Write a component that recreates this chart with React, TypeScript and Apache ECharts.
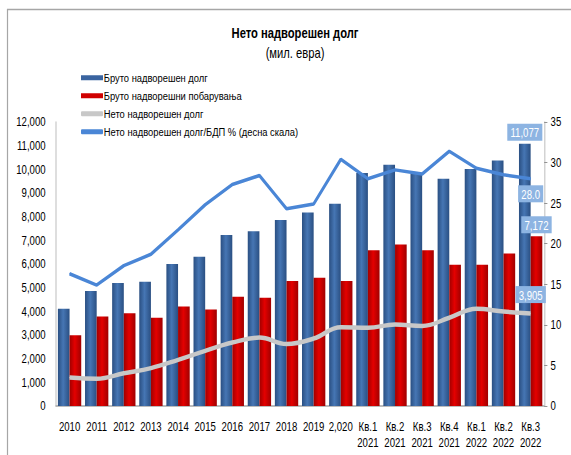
import React, { useEffect, useRef } from "react";
import * as echarts from "echarts";

const categories = [
  "2010", "2011", "2012", "2013", "2014", "2015", "2016", "2017", "2018", "2019", "2,020",
  "Кв.1\n2021", "Кв.2\n2021", "Кв.3\n2021", "Кв.4\n2021", "Кв.1\n2022", "Кв.2\n2022", "Кв.3\n2022",
];
const grossDebt = [4110, 4860, 5200, 5250, 6000, 6310, 7230, 7380, 7860, 8180, 8550, 9840, 10190, 9800, 9600, 10010, 10370, 11077];
const grossClaims = [2990, 3780, 3920, 3730, 4200, 4080, 4620, 4570, 5280, 5420, 5280, 6580, 6820, 6580, 5970, 5970, 6440, 7172];
const netDebt = [1200, 1150, 1380, 1600, 1950, 2330, 2680, 2890, 2620, 2850, 3330, 3310, 3440, 3380, 3730, 4110, 3990, 3905];
const netDebtGdp = [16.3, 14.9, 17.3, 18.7, 21.7, 24.8, 27.3, 28.4, 24.3, 24.9, 30.4, 28.0, 29.1, 28.6, 31.4, 29.3, 28.5, 28.0];

const seriesNames = [
  "Бруто надворешен долг",
  "Бруто надворешни побарувања",
  "Нето надворешен долг",
  "Нето надворешен долг/БДП % (десна скала)",
];

// The reference uses a condensed face; the chart is drawn wider and squeezed horizontally.
const SX = 0.8;
const W = 571;
const H = 455;
const ux = (x: number) => x / SX;

const FONT = "'Liberation Sans', Arial, sans-serif";
const LABEL_BG = "#8DB4E2";

const fmt = (v: number) => v.toLocaleString("en-US");

const hGrad = (edge: string, mid: string) =>
  new echarts.graphic.LinearGradient(0, 0, 1, 0, [
    { offset: 0, color: edge },
    { offset: 0.45, color: mid },
    { offset: 1, color: edge },
  ]);

const boxLabel = (position: string, distance: number, text: string) => ({
  show: true,
  position,
  distance,
  formatter: text,
  color: "#ffffff",
  backgroundColor: LABEL_BG,
  padding: [3, 4, 2, 4],
  fontSize: 12,
  fontFamily: FONT,
});

export default function App() {
  const ref = useRef<HTMLDivElement>(null);
  useEffect(() => {
    if (!ref.current) return;
    const chart = echarts.init(ref.current, undefined, { renderer: "svg" });
    const last = categories.length - 1;
    const blue = hGrad("#2A4F82", "#4676B4");
    const red = hGrad("#A00000", "#E40000");
    chart.setOption({
      animation: false,
      backgroundColor: "#ffffff",
      textStyle: { fontFamily: FONT },
      title: {
        text: "Нето надворешен долг",
        subtext: "(мил. евра)",
        left: ux(291),
        textAlign: "center",
        top: 22,
        itemGap: 6,
        textStyle: { fontSize: 14, fontWeight: "bold", color: "#000", fontFamily: FONT },
        subtextStyle: { fontSize: 14, color: "#000", fontFamily: FONT },
      },
      graphic: [
        {
          type: "rect",
          shape: { x: ux(7.5), y: 9.5, width: ux(620), height: 520 },
          style: { fill: "none", stroke: "#A6A6A6", lineWidth: 1.5 },
          silent: true,
        },
      ],
      legend: {
        orient: "vertical",
        left: ux(77),
        top: 66,
        itemWidth: ux(22),
        itemHeight: 5,
        itemGap: 4.5,
        textStyle: { fontSize: 11.7, color: "#000", fontFamily: FONT, padding: [0, 0, 0, -4], lineHeight: 13.5 },
        data: [
          { name: seriesNames[0], icon: "rect", itemStyle: { color: "#3A64A0" } },
          { name: seriesNames[1], icon: "rect", itemStyle: { color: "#D00000" } },
          { name: seriesNames[2], icon: "roundRect", itemStyle: { color: "#C8C8C8" } },
          { name: seriesNames[3], icon: "roundRect", itemStyle: { color: "#4A86D6" } },
        ],
      },
      grid: { left: ux(56), right: ux(27), top: 122, bottom: 49, containLabel: false },
      xAxis: {
        type: "category",
        data: categories,
        axisLine: { lineStyle: { color: "#A6A6A6", width: 1.5 } },
        axisTick: { show: false },
        axisLabel: { color: "#000", fontSize: 12, margin: 13, lineHeight: 16, interval: 0, fontFamily: FONT },
      },
      yAxis: [
        {
          type: "value",
          min: 0,
          max: 12000,
          interval: 1000,
          splitLine: { show: false },
          axisLine: { show: true, lineStyle: { color: "#C8C8C8", width: 1.5 } },
          axisTick: { show: false },
          axisLabel: { color: "#000", fontSize: 12, margin: 13, formatter: (v: number) => fmt(v), fontFamily: FONT },
        },
        {
          type: "value",
          min: 0,
          max: 35,
          interval: 5,
          position: "right",
          splitLine: { show: false },
          axisLine: { show: true, lineStyle: { color: "#C8C8C8", width: 1.5 } },
          axisTick: { show: true, inside: false, length: 4, lineStyle: { color: "#888" } },
          axisLabel: { color: "#000", fontSize: 12, margin: 8, fontFamily: FONT },
        },
      ],
      series: [
        {
          name: seriesNames[0],
          type: "bar",
          yAxisIndex: 0,
          barGap: "0%",
          barCategoryGap: "14%",
          itemStyle: { color: blue },
          data: grossDebt.map((v, i) =>
            i === last ? { value: v, label: boxLabel("top", 3, fmt(v)) } : v
          ),
          z: 2,
        },
        {
          name: seriesNames[1],
          type: "bar",
          yAxisIndex: 0,
          itemStyle: { color: red },
          data: grossClaims.map((v, i) =>
            i === last ? { value: v, label: boxLabel("top", 3, fmt(v)) } : v
          ),
          z: 2,
        },
        {
          name: seriesNames[2],
          type: "line",
          yAxisIndex: 0,
          smooth: 0.4,
          symbol: "circle",
          symbolSize: 1,
          showSymbol: true,
          itemStyle: { color: "#C8C8C8" },
          lineStyle: { color: "#C8C8C8", width: 4.5 },
          data: netDebt.map((v, i) =>
            i === last ? { value: v, label: boxLabel("top", 10, fmt(v)) } : v
          ),
          z: 3,
        },
        {
          name: seriesNames[3],
          type: "line",
          yAxisIndex: 1,
          symbol: "circle",
          symbolSize: 1,
          showSymbol: true,
          itemStyle: { color: "#4A86D6" },
          lineStyle: { color: "#4A86D6", width: 3.5 },
          data: netDebtGdp.map((v, i) =>
            i === last ? { value: v, label: boxLabel("bottom", 6, v.toFixed(1)) } : v
          ),
          z: 4,
        },
      ],
    });
    return () => chart.dispose();
  }, []);
  return (
    <div style={{ position: "fixed", left: 0, top: 0, width: W, height: H, overflow: "hidden" }}>
      <div
        ref={ref}
        style={{
          width: ux(W),
          height: H,
          transform: `scaleX(${SX})`,
          transformOrigin: "0 0",
        }}
      />
    </div>
  );
}
